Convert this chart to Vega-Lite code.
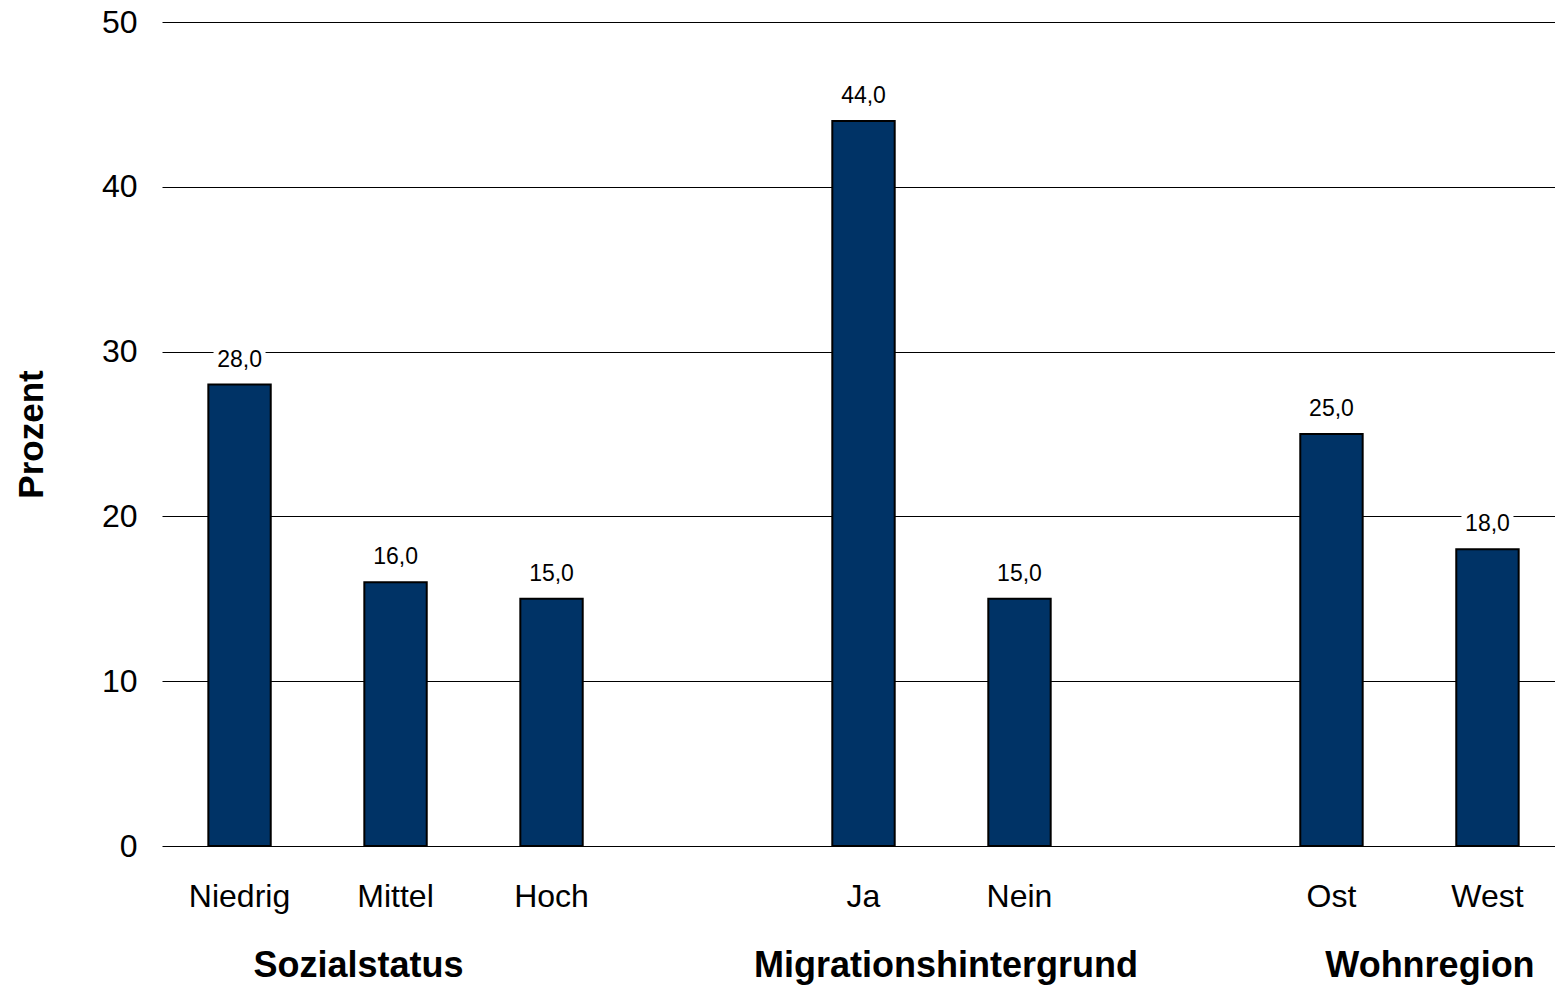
{
  "$schema": "https://vega.github.io/schema/vega-lite/v6.json",
  "autosize": {"type": "none"},
  "padding": {"left": 162, "top": 22, "right": 0, "bottom": 144},
  "width": 1393,
  "height": 824,
  "background": "white",
  "config": {
    "view": {"stroke": null},
    "font": "Liberation Sans"
  },
  "datasets": {
    "bars": [
      {"kategorie": "Niedrig", "gruppe": "Sozialstatus", "prozent": 28.0, "beschriftung": "28,0"},
      {"kategorie": "Mittel", "gruppe": "Sozialstatus", "prozent": 16.0, "beschriftung": "16,0"},
      {"kategorie": "Hoch", "gruppe": "Sozialstatus", "prozent": 15.0, "beschriftung": "15,0"},
      {"kategorie": "Ja", "gruppe": "Migrationshintergrund", "prozent": 44.0, "beschriftung": "44,0"},
      {"kategorie": "Nein", "gruppe": "Migrationshintergrund", "prozent": 15.0, "beschriftung": "15,0"},
      {"kategorie": "Ost", "gruppe": "Wohnregion", "prozent": 25.0, "beschriftung": "25,0"},
      {"kategorie": "West", "gruppe": "Wohnregion", "prozent": 18.0, "beschriftung": "18,0"}
    ],
    "gruppen": [
      {"gruppe": "Sozialstatus", "anker": "Mittel"},
      {"gruppe": "Migrationshintergrund", "anker": "Nein"},
      {"gruppe": "Wohnregion", "anker": "West"}
    ]
  },
  "encoding": {
    "x": {
      "field": "kategorie",
      "type": "nominal",
      "scale": {
        "domain": ["Niedrig", "Mittel", "Hoch", " ", "Ja", "Nein", "  ", "Ost", "West"],
        "paddingInner": 0.6,
        "paddingOuter": 0.265,
        "align": 0.5605
      },
      "axis": {
        "title": null,
        "labelAngle": 0,
        "labelFontSize": 32,
        "labelColor": "#000000",
        "labelPadding": 35,
        "ticks": false,
        "tickSize": 0,
        "domain": false,
        "grid": false
      }
    }
  },
  "layer": [
    {
      "data": {"name": "bars"},
      "mark": {"type": "bar", "fill": "#003366", "stroke": "#000000", "strokeWidth": 2},
      "encoding": {
        "y": {
          "field": "prozent",
          "type": "quantitative",
          "scale": {"domain": [0, 50], "nice": false},
          "axis": {
            "values": [0, 10, 20, 30, 40, 50],
            "title": "Prozent",
            "titleFontSize": 35,
            "titleFontWeight": "bold",
            "titleColor": "#000000",
            "titleX": -120,
            "titleBaseline": "alphabetic",
            "titleAngle": 270,
            "labelFontSize": 32,
            "labelColor": "#000000",
            "labelPadding": 25,
            "ticks": false,
            "tickSize": 0,
            "domain": false,
            "grid": true,
            "gridColor": "#000000",
            "gridWidth": 1,
            "gridOpacity": 1
          }
        }
      }
    },
    {
      "data": {"name": "bars"},
      "mark": {"type": "bar", "fill": "white", "width": 52, "yOffset": -37, "y2Offset": -15},
      "encoding": {
        "y": {"field": "prozent", "type": "quantitative"},
        "y2": {"field": "prozent"}
      }
    },
    {
      "data": {"name": "bars"},
      "mark": {"type": "text", "fontSize": 23, "color": "#000000", "baseline": "alphabetic", "dy": -18},
      "encoding": {
        "y": {"field": "prozent", "type": "quantitative"},
        "text": {"field": "beschriftung", "type": "nominal"}
      }
    },
    {
      "data": {"name": "gruppen"},
      "transform": [{"filter": "datum.gruppe === 'Sozialstatus'"}],
      "mark": {"type": "text", "fontSize": 36, "fontWeight": "bold", "color": "#000000", "baseline": "alphabetic", "dy": 131, "dx": -37},
      "encoding": {
        "x": {"field": "anker", "type": "nominal"},
        "y": {"datum": 0, "type": "quantitative"},
        "text": {"field": "gruppe"}
      }
    },
    {
      "data": {"name": "gruppen"},
      "transform": [{"filter": "datum.gruppe === 'Migrationshintergrund'"}],
      "mark": {"type": "text", "fontSize": 36, "fontWeight": "bold", "color": "#000000", "baseline": "alphabetic", "dy": 131, "dx": -73.5},
      "encoding": {
        "x": {"field": "anker", "type": "nominal"},
        "y": {"datum": 0, "type": "quantitative"},
        "text": {"field": "gruppe"}
      }
    },
    {
      "data": {"name": "gruppen"},
      "transform": [{"filter": "datum.gruppe === 'Wohnregion'"}],
      "mark": {"type": "text", "fontSize": 36, "fontWeight": "bold", "color": "#000000", "baseline": "alphabetic", "dy": 131, "dx": -57.5},
      "encoding": {
        "x": {"field": "anker", "type": "nominal"},
        "y": {"datum": 0, "type": "quantitative"},
        "text": {"field": "gruppe"}
      }
    }
  ]
}
